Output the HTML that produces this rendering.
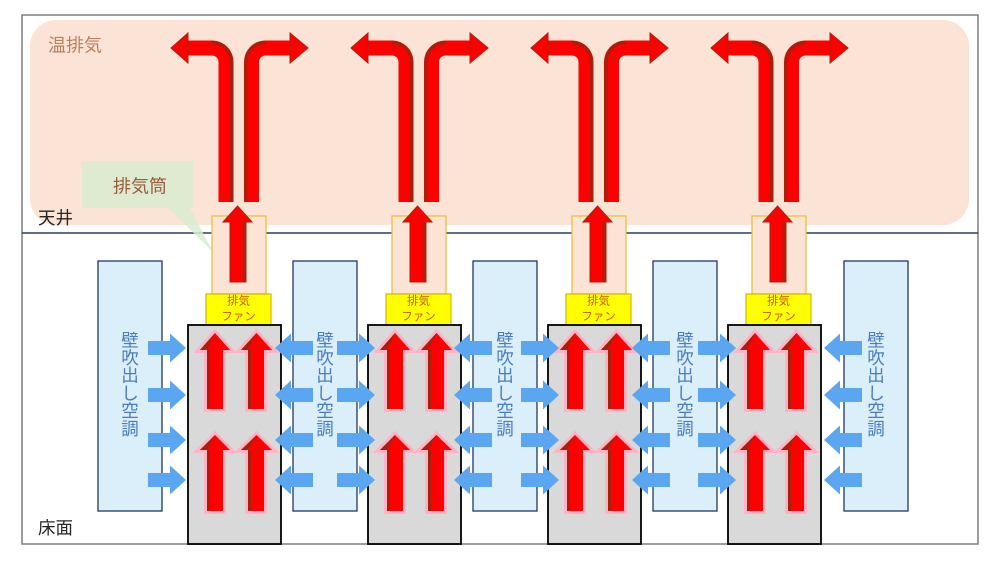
<!DOCTYPE html>
<html><head><meta charset="utf-8">
<style>
html,body{margin:0;padding:0;background:#fff;}
svg{display:block;}
text{font-family:"Liberation Sans","Noto Sans CJK JP",sans-serif;}
</style></head>
<body>
<svg width="1000" height="562" viewBox="0 0 1000 562" xmlns="http://www.w3.org/2000/svg">
<defs>
  <path id="ra" d="M-38,-7H-16V-14.5L0,0L-16,14.5V7H-38Z" fill="#5aa6f0"/>
  <path id="la" d="M38,-7H16V-14.5L0,0L16,14.5V7H38Z" fill="#5aa6f0"/>
  <g id="unit">
    <!-- chimney -->
    <rect x="212" y="216" width="54" height="78" fill="#fbe4d6" stroke="#e8c13a" stroke-width="1.3"/>
    <!-- bent arrows -->
    <path d="M226,202V62A14,14 0 0 0 212,48H186" stroke="#ff0000" stroke-width="15" fill="none"/>
    <path d="M231.5,202V62A19.5,19.5 0 0 0 212,42.5" stroke="#a8200c" stroke-width="3.5" fill="none"/>
    <polygon points="188,33 171,48 188,63" fill="#ff0000" stroke="#a8200c" stroke-width="1"/>
    <path d="M251.5,202V62A14,14 0 0 1 265.5,48H292" stroke="#ff0000" stroke-width="15" fill="none"/>
    <path d="M246,202V62A19.5,19.5 0 0 1 265.5,42.5" stroke="#a8200c" stroke-width="3.5" fill="none"/>
    <polygon points="290,33 308,48 290,63" fill="#ff0000" stroke="#a8200c" stroke-width="1"/>
    <!-- chimney arrow -->
    <polygon points="237.5,206 252,222 246,222 246,282 230,282 230,222 223,222" fill="#ff0000" stroke="#a8200c" stroke-width="1"/>
    <rect x="242.5" y="222" width="3.5" height="60" fill="#b0200c"/>
    <!-- fan -->
    <rect x="206" y="294" width="65" height="31" fill="#ffff00" stroke="#d6b400" stroke-width="1.2"/>
    <!-- gray box -->
    <rect x="188" y="325" width="93" height="219" fill="#d9d9d9" stroke="#000" stroke-width="1.8"/>
    <!-- red up arrows -->
    <g fill="#ff0000" stroke="#ffb3c4" stroke-width="6" paint-order="stroke" stroke-linejoin="miter">
      <polygon points="215,333 230,350 223,350 223,409 207,409 207,350 200,350"/>
      <polygon points="256.5,333 272,350 264,350 264,409 248,409 248,350 241,350"/>
      <polygon points="215,435 230,450 223,450 223,511 207,511 207,450 200,450"/>
      <polygon points="256.5,435 272,450 264,450 264,511 248,511 248,450 241,450"/>
    </g>
    <g fill="#a8200c">
      <rect x="207" y="350" width="3" height="59"/>
      <rect x="248" y="350" width="3" height="59"/>
      <rect x="207" y="450" width="3" height="61"/>
      <rect x="248" y="450" width="3" height="61"/>
      <polygon points="200,350 215,333 207,350"/>
      <polygon points="241,350 256.5,333 248,350"/>
      <polygon points="200,450 215,435 207,450"/>
      <polygon points="241,450 256.5,435 248,450"/>
    </g>
  </g>
</defs>

<!-- warm exhaust zone -->
<rect x="30" y="20" width="939" height="205" rx="26" ry="26" fill="#fbe4d6"/>
<!-- frame -->
<rect x="22" y="15" width="956" height="529" fill="none" stroke="#7f7f7f" stroke-width="1.5"/>
<!-- ceiling line -->
<line x1="22" y1="233" x2="978" y2="233" stroke="#2f3b62" stroke-width="1.5"/>

<!-- callout -->
<path d="M82,161H193V208H190L213,252L168,208H82Z" fill="#d8ecd0" fill-opacity="0.85"/>

<!-- units -->
<use href="#unit"/>
<use href="#unit" x="180"/>
<use href="#unit" x="360"/>
<use href="#unit" x="540"/>

<!-- wall AC boxes -->
<g fill="#daeffa" stroke="#203864" stroke-width="1.3">
  <rect x="98" y="261" width="64" height="250"/>
  <rect x="293" y="261" width="64" height="250"/>
  <rect x="473" y="261" width="64" height="250"/>
  <rect x="653" y="261" width="64" height="250"/>
  <rect x="844" y="261" width="64" height="250"/>
</g>

<!-- blue arrows -->
<use href="#ra" x="186" y="348"/><use href="#ra" x="186" y="395"/><use href="#ra" x="186" y="440"/><use href="#ra" x="186" y="480"/>
<use href="#ra" x="375" y="348"/><use href="#ra" x="375" y="395"/><use href="#ra" x="375" y="440"/><use href="#ra" x="375" y="480"/>
<use href="#ra" x="559" y="348"/><use href="#ra" x="559" y="395"/><use href="#ra" x="559" y="440"/><use href="#ra" x="559" y="480"/>
<use href="#ra" x="736" y="348"/><use href="#ra" x="736" y="395"/><use href="#ra" x="736" y="440"/><use href="#ra" x="736" y="480"/>
<use href="#la" x="275" y="348"/><use href="#la" x="275" y="395"/><use href="#la" x="275" y="440"/><use href="#la" x="275" y="480"/>
<use href="#la" x="454" y="348"/><use href="#la" x="454" y="395"/><use href="#la" x="454" y="440"/><use href="#la" x="454" y="480"/>
<use href="#la" x="632" y="348"/><use href="#la" x="632" y="395"/><use href="#la" x="632" y="440"/><use href="#la" x="632" y="480"/>
<use href="#la" x="824" y="348"/><use href="#la" x="824" y="395"/><use href="#la" x="824" y="440"/><use href="#la" x="824" y="480"/>

<!-- AC vertical text -->
<g font-size="17.5" fill="#4a7cc0" text-anchor="middle">
  <text><tspan x="130" y="346.3">壁</tspan><tspan x="130" y="364">吹</tspan><tspan x="130" y="381.7">出</tspan><tspan x="130" y="399.4">し</tspan><tspan x="130" y="417.1">空</tspan><tspan x="130" y="434.8">調</tspan></text>
  <text><tspan x="325" y="346.3">壁</tspan><tspan x="325" y="364">吹</tspan><tspan x="325" y="381.7">出</tspan><tspan x="325" y="399.4">し</tspan><tspan x="325" y="417.1">空</tspan><tspan x="325" y="434.8">調</tspan></text>
  <text><tspan x="505" y="346.3">壁</tspan><tspan x="505" y="364">吹</tspan><tspan x="505" y="381.7">出</tspan><tspan x="505" y="399.4">し</tspan><tspan x="505" y="417.1">空</tspan><tspan x="505" y="434.8">調</tspan></text>
  <text><tspan x="685" y="346.3">壁</tspan><tspan x="685" y="364">吹</tspan><tspan x="685" y="381.7">出</tspan><tspan x="685" y="399.4">し</tspan><tspan x="685" y="417.1">空</tspan><tspan x="685" y="434.8">調</tspan></text>
  <text><tspan x="876" y="346.3">壁</tspan><tspan x="876" y="364">吹</tspan><tspan x="876" y="381.7">出</tspan><tspan x="876" y="399.4">し</tspan><tspan x="876" y="417.1">空</tspan><tspan x="876" y="434.8">調</tspan></text>
</g>

<!-- fan labels -->
<g font-size="11.5" fill="#c55a11" text-anchor="middle">
  <text x="238.5" y="304.5">排気</text><text x="238.5" y="320">ファン</text>
  <text x="418.5" y="304.5">排気</text><text x="418.5" y="320">ファン</text>
  <text x="598.5" y="304.5">排気</text><text x="598.5" y="320">ファン</text>
  <text x="778.5" y="304.5">排気</text><text x="778.5" y="320">ファン</text>
</g>

<!-- labels -->
<text x="48" y="51.5" font-size="18" fill="#b9805c">温排気</text>
<text x="140" y="192.5" font-size="18" text-anchor="middle" fill="#9b5a3a">排気筒</text>
<text x="38" y="224" font-size="17.5" fill="#262626">天井</text>
<text x="38" y="534" font-size="17.5" fill="#262626">床面</text>
</svg>
</body></html>
